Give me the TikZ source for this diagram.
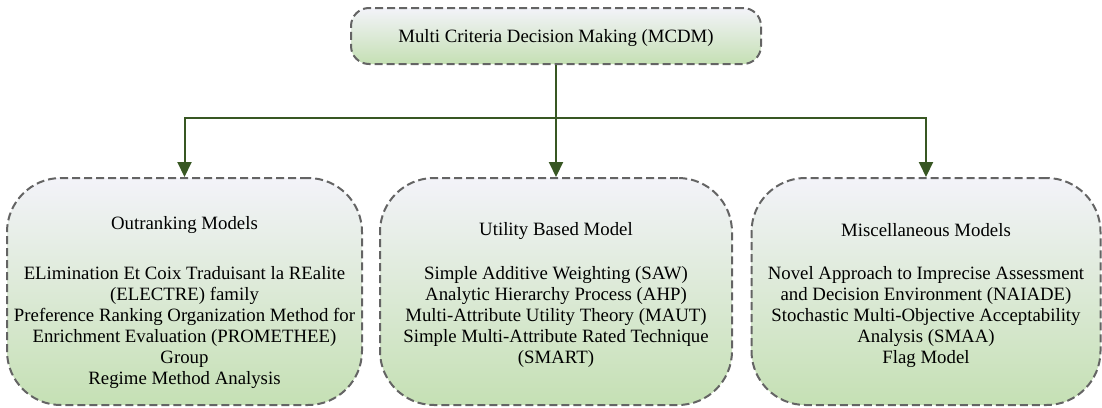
\documentclass[tikz,border=0pt]{standalone}
\usepackage{fontspec}
\setmainfont{Liberation Serif}
\usetikzlibrary{arrows.meta}
\definecolor{boxtop}{RGB}{243,243,249}
\definecolor{boxbottom}{RGB}{197,224,180}
\definecolor{boxedge}{RGB}{100,100,100}
\definecolor{linkgreen}{RGB}{56,87,35}
\tikzset{
  x=1pt, y=-1pt,
  box/.style={draw=boxedge, line width=2pt, dash pattern=on 8pt off 4pt,
    top color=boxtop, bottom color=boxbottom, inner sep=0pt},
  txt/.style={font=\fontsize{18.8}{21}\selectfont, align=center, anchor=base, inner sep=0pt},
  link/.style={draw=linkgreen, line width=2pt},
  arrowlink/.style={link, -{Triangle[width=14pt,length=15pt]}}
}
\begin{document}
\begin{tikzpicture}
\useasboundingbox (0,0) rectangle (1102,407);

% root
\node[box, rounded corners=18pt, minimum width=410pt, minimum height=56pt] (mcdm) at (556,36) {};
\node[txt] (mcdmt) at (556,42) {Multi Criteria Decision Making (MCDM)};

% three families
\node[box, rounded corners=54pt, minimum width=355pt, minimum height=227pt] (out) at (184.5,291.5) {};
\node[box, rounded corners=54pt, minimum width=352pt, minimum height=227pt] (util) at (556,291.5) {};
\node[box, rounded corners=54pt, minimum width=349pt, minimum height=227pt] (misc) at (926,291.5) {};

% headings, then method lists (a multi-line node sits on its last baseline)
\node[txt] (outh) at (184.5,229) {Outranking Models};
\node[txt] (outl) at (184.5,384) {ELimination Et Coix Traduisant la REalite\\(ELECTRE) family\\Preference Ranking Organization Method for\\Enrichment Evaluation (PROMETHEE)\\Group\\Regime Method Analysis};

\node[txt] (utilh) at (556,235) {Utility Based Model};
\node[txt] (utill) at (556,363) {Simple Additive Weighting (SAW)\\Analytic Hierarchy Process (AHP)\\Multi-Attribute Utility Theory (MAUT)\\Simple Multi-Attribute Rated Technique\\(SMART)};

\node[txt] (misch) at (926,236) {Miscellaneous Models};
\node[txt] (miscl) at (926,363) {Novel Approach to Imprecise Assessment\\and Decision Environment (NAIADE)\\Stochastic Multi-Objective Acceptability\\Analysis (SMAA)\\Flag Model};

% connectors
\coordinate (hub) at (556,118);
\draw[link] (mcdm.south) -- (hub);
\draw[arrowlink] (hub) -| (out.north);
\draw[arrowlink] (hub) -- (util.north);
\draw[arrowlink] (hub) -| (misc.north);
\end{tikzpicture}
\end{document}
